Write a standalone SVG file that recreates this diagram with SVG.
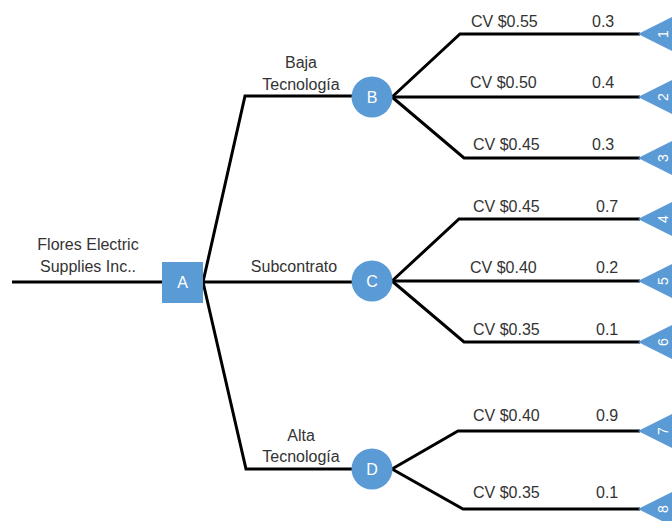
<svg xmlns="http://www.w3.org/2000/svg" width="672" height="521" viewBox="0 0 672 521">
<style>
.ln{fill:none;stroke:#000;stroke-width:3;stroke-linejoin:miter}
.nd{fill:#5B9BD5}
.t{font-family:"Liberation Sans",Arial,sans-serif;font-size:16px;fill:#333}
.w{font-family:"Liberation Sans",Arial,sans-serif;font-size:16px;fill:#fff;text-anchor:middle}
.n{font-family:"Liberation Sans",Arial,sans-serif;font-size:14px;fill:#fff;text-anchor:middle}
.c{text-anchor:middle}
</style>
<rect width="672" height="521" fill="#fff"/>
<g id="connectors">
<path class="ln" d="M12,282 H165"/>
<path class="ln" d="M203,282 L245,96 H355"/>
<path class="ln" d="M203,282 H355"/>
<path class="ln" d="M203,282 L246,469 H355"/>
<path class="ln" d="M392,97 L460,34 H640"/>
<path class="ln" d="M392,97 H640"/>
<path class="ln" d="M392,97 L464,158 H640"/>
<path class="ln" d="M392,281 L459,219 H640"/>
<path class="ln" d="M392,281 H640"/>
<path class="ln" d="M392,281 L464,342 H640"/>
<path class="ln" d="M392,469 L458,431 H640"/>
<path class="ln" d="M392,469 L463,509 H640"/>
</g>
<g id="labels">
<text class="t c" x="88" y="250">Flores Electric</text>
<text class="t c" x="88" y="272">Supplies Inc..</text>
<text class="t c" x="301" y="68">Baja</text>
<text class="t c" x="301" y="90">Tecnología</text>
<text class="t c" x="294" y="272">Subcontrato</text>
<text class="t c" x="301" y="441">Alta</text>
<text class="t c" x="301" y="462">Tecnología</text>
<text class="t" x="471" y="27">CV $0.55</text><text class="t" x="592" y="27">0.3</text>
<text class="t" x="470" y="88">CV $0.50</text><text class="t" x="592" y="88">0.4</text>
<text class="t" x="473" y="150">CV $0.45</text><text class="t" x="592" y="150">0.3</text>
<text class="t" x="473" y="212">CV $0.45</text><text class="t" x="596" y="212">0.7</text>
<text class="t" x="470" y="273">CV $0.40</text><text class="t" x="596" y="273">0.2</text>
<text class="t" x="473" y="335">CV $0.35</text><text class="t" x="596" y="335">0.1</text>
<text class="t" x="473" y="421">CV $0.40</text><text class="t" x="596" y="421">0.9</text>
<text class="t" x="473" y="498">CV $0.35</text><text class="t" x="596" y="498">0.1</text>
</g>
<g id="A"><rect class="nd" x="162" y="262" width="41" height="41"/><text class="w" x="182.5" y="288">A</text></g>
<g id="B"><circle class="nd" cx="372" cy="97" r="20.5"/><text class="w" x="372" y="103">B</text></g>
<g id="C"><circle class="nd" cx="372" cy="281" r="20.5"/><text class="w" x="372" y="287">C</text></g>
<g id="D"><circle class="nd" cx="372" cy="469" r="20.5"/><text class="w" x="372" y="475">D</text></g>
<g id="T1"><path class="nd" d="M638,34 L692,7 V61 Z"/><text class="n" transform="translate(663,34) rotate(-90)" y="5">1</text></g>
<g id="T2"><path class="nd" d="M638,97 L692,70 V124 Z"/><text class="n" transform="translate(663,97) rotate(-90)" y="5">2</text></g>
<g id="T3"><path class="nd" d="M638,158 L692,131 V185 Z"/><text class="n" transform="translate(663,158) rotate(-90)" y="5">3</text></g>
<g id="T4"><path class="nd" d="M638,219 L692,192 V246 Z"/><text class="n" transform="translate(663,219) rotate(-90)" y="5">4</text></g>
<g id="T5"><path class="nd" d="M638,281 L692,254 V308 Z"/><text class="n" transform="translate(663,281) rotate(-90)" y="5">5</text></g>
<g id="T6"><path class="nd" d="M638,342 L692,315 V369 Z"/><text class="n" transform="translate(663,342) rotate(-90)" y="5">6</text></g>
<g id="T7"><path class="nd" d="M638,431 L692,404 V458 Z"/><text class="n" transform="translate(663,431) rotate(-90)" y="5">7</text></g>
<g id="T8"><path class="nd" d="M638,509 L692,482 V536 Z"/><text class="n" transform="translate(663,509) rotate(-90)" y="5">8</text></g>
</svg>
